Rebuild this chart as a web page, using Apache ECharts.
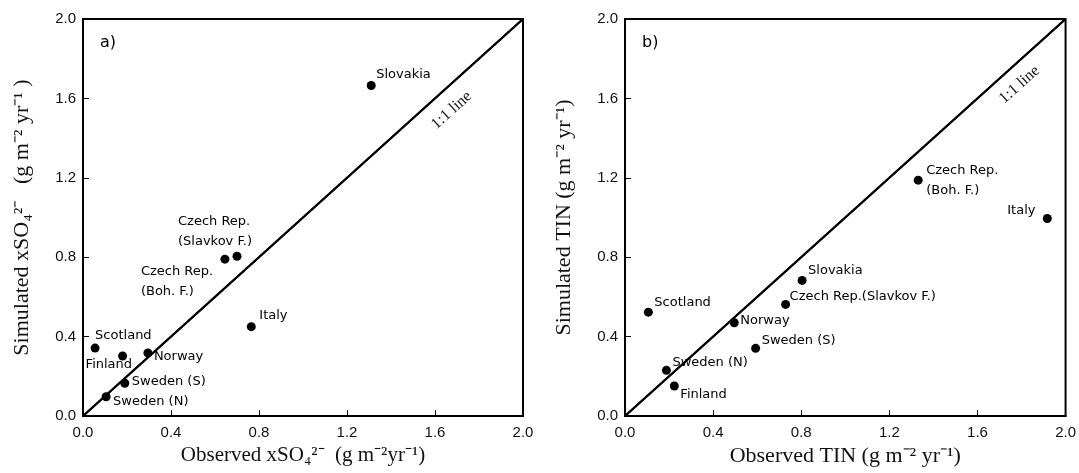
<!DOCTYPE html>
<html>
<head>
<meta charset="utf-8">
<script src="https://cdn.jsdelivr.net/npm/echarts@6/dist/echarts.min.js"></script>
<style>
html,body{margin:0;padding:0;background:#fff;}
#chart{width:1079px;height:473px;}
</style>
</head>
<body>
<div id="chart"></div>
<script>
// ---- data ----
const sites = ['Slovakia','Czech Rep.\n(Slavkov F.)','Czech Rep.\n(Boh. F.)','Italy','Scotland','Finland','Norway','Sweden (S)','Sweden (N)'];
const so4Observed  = [1.31, 0.70, 0.645, 0.765, 0.055, 0.18, 0.295, 0.19, 0.105];
const so4Simulated = [1.665, 0.805, 0.79, 0.45, 0.342, 0.302, 0.318, 0.165, 0.097];

const tinSites = ['Czech Rep.\n(Boh. F.)','Italy','Slovakia','Czech Rep.(Slavkov F.)','Scotland','Norway','Sweden (S)','Sweden (N)','Finland'];
const tinObserved  = [1.331, 1.917, 0.804, 0.729, 0.106, 0.496, 0.593, 0.188, 0.224];
const tinSimulated = [1.188, 0.995, 0.683, 0.562, 0.523, 0.470, 0.341, 0.230, 0.151];

const oneToOne = [[0, 0], [2, 2]];

// ---- label placement (style, not data) ----
const placeA = [[5,-11],[-59,-25],[-84,22],[8,-11],[0,-12],[-37,9],[6,4],[7,-2],[7,5]];
const placeB = [[8,0],[-40,-8],[6,-10],[4,-8],[6,-10],[6,-2],[6,-8],[6,-8],[6,9]];

const sansLbl = 'DejaVu Sans';
const tickFont = 'Liberation Sans';
const serif = 'Liberation Serif';

function points(names, xs, ys, place) {
  return names.map((n, i) => ({
    name: n,
    value: [xs[i], ys[i]],
    label: { offset: place[i] }
  }));
}

function xAxis(idx, name, fs) {
  return {
    type: 'value', gridIndex: idx, min: 0, max: 2, interval: 0.4,
    name: name, nameLocation: 'middle', nameGap: 27,
    nameTextStyle: { fontFamily: serif, fontSize: fs, color: '#111' },
    axisLine: { show: true, lineStyle: { color: '#000', width: 2 } },
    axisTick: { show: true, inside: true, length: 6, lineStyle: { color: '#000', width: 1 } },
    axisLabel: { fontFamily: tickFont, fontSize: 15, color: '#111', margin: 9,
      formatter: v => v.toFixed(1) },
    splitLine: { show: false }
  };
}
function yAxis(idx, name, fs) {
  return {
    type: 'value', gridIndex: idx, min: 0, max: 2, interval: 0.4,
    name: name, nameLocation: 'middle', nameGap: 50,
    nameTextStyle: { fontFamily: serif, fontSize: fs, color: '#111' },
    axisLine: { show: true, lineStyle: { color: '#000', width: 2 } },
    axisTick: { show: true, inside: true, length: 6, lineStyle: { color: '#000', width: 1 } },
    axisLabel: { fontFamily: tickFont, fontSize: 15, color: '#111', margin: 7,
      formatter: v => v.toFixed(1) },
    splitLine: { show: false }
  };
}

function scatter(idx, data) {
  return {
    type: 'scatter', xAxisIndex: idx, yAxisIndex: idx,
    symbol: 'circle', symbolSize: 9,
    itemStyle: { color: '#000', opacity: 1 },
    label: {
      show: true, position: 'inside', align: 'left', verticalAlign: 'middle',
      formatter: p => p.name, fontFamily: sansLbl, fontSize: 13, color: '#000',
      lineHeight: 20
    },
    emphasis: { disabled: true },
    data: data, z: 5
  };
}
function diag(idx, dist) {
  return {
    type: 'line', xAxisIndex: idx, yAxisIndex: idx,
    data: oneToOne, symbol: 'none', silent: true,
    lineStyle: { color: '#000', width: 2 },
    markLine: {
      silent: true, symbol: 'none',
      lineStyle: { color: '#000', width: 2, type: 'solid' },
      label: { show: true, formatter: '1:1 line', position: 'insideEndBottom',
        distance: dist, fontFamily: serif, fontSize: 16, color: '#111' },
      data: [[{ coord: oneToOne[0] }, { coord: oneToOne[1] }]]
    }
  };
}

const chart = echarts.init(document.getElementById('chart'), null, { renderer: 'canvas' });
chart.setOption({
  animation: false,
  backgroundColor: '#fff',
  title: [
    { text: 'a)', left: 95, top: 30, textStyle: { fontFamily: sansLbl, fontSize: 16, fontWeight: 'normal', color: '#000' } },
    { text: 'b)', left: 637, top: 30, textStyle: { fontFamily: sansLbl, fontSize: 16, fontWeight: 'normal', color: '#000' } }
  ],
  grid: [
    { left: 83, right: 556, top: 19, bottom: 57, show: true, borderColor: '#000', borderWidth: 2 },
    { left: 625, right: 13, top: 19, bottom: 57, show: true, borderColor: '#000', borderWidth: 2 }
  ],
  xAxis: [
    xAxis(0, 'Observed xSO₄²⁻  (g m⁻²yr⁻¹)', 21),
    xAxis(1, 'Observed TIN (g m⁻² yr⁻¹)', 22)
  ],
  yAxis: [
    yAxis(0, 'Simulated xSO₄²⁻   (g m⁻² yr⁻¹ )', 22),
    yAxis(1, 'Simulated TIN (g m⁻² yr⁻¹)', 22)
  ],
  series: [
    diag(0, [90, 12]),
    diag(1, [54, 10]),
    scatter(0, points(sites, so4Observed, so4Simulated, placeA)),
    scatter(1, points(tinSites, tinObserved, tinSimulated, placeB))
  ]
});
</script>
</body>
</html>
